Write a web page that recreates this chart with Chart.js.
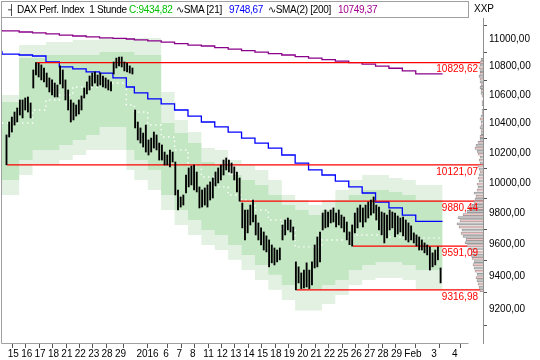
<!doctype html>
<html lang="de">
<head>
<meta charset="utf-8">
<title>DAX Perf. Index 1 Stunde</title>
<script src="https://cdn.jsdelivr.net/npm/chart.js@4"></script>
<style>
  body { margin: 0; background: #fff; }
  #wrap { position: relative; width: 540px; height: 360px; }
  #hdr { position: absolute; left: 1px; top: 1px; width: 468px; height: 17px; border: 1px solid #a0a0a0; box-sizing: border-box;
         font: 10px "Liberation Sans", Arial, sans-serif; letter-spacing: -0.3px; color: #000; }
  #hdr span { position: absolute; top: 2px; white-space: pre; }
  #xxp { position: absolute; left: 474px; top: 3px; font: 10px "Liberation Sans", Arial, sans-serif; }
</style>
</head>
<body>
<div id="wrap">
  <canvas id="dax" width="540" height="360"></canvas>
  <div id="hdr">
    <span style="left:6px">┤</span>
    <span style="left:15px">DAX Perf. Index  1 Stunde</span>
    <span style="left:127px; color:#00c000">C:9434,82</span>
    <span style="left:174px">∿SMA [21]</span>
    <span style="left:227px; color:#0000ff">9748,67</span>
    <span style="left:266px">∿SMA(2) [200]</span>
    <span style="left:336px; color:#a0008c">10749,37</span>
  </div>
  <div id="xxp">XXP</div>
</div>

<script>
    // day ticks (bar index of the day boundary) and their labels
    const xTickPos = [-0.5, 4.5, 9.5, 14.5, 19.5, 24.5, 29.5, 34.5, 39.5, 47.5, 57.5, 62.5, 67.5, 72.5, 77.5,
        82.5, 87.5, 92.5, 97.5, 102.5, 107.5, 112.5, 117.5, 122.5, 127.5, 132.5, 137.5, 142.5, 147.5, 157.5, 165.3];
    const xTickLabels = ['15', '16', '17', '18', '21', '22', '23', '28', '29', '2016', '6', '7', '8', '11', '12',
        '13', '14', '15', '18', '19', '20', '21', '22', '25', '26', '27', '28', '29', 'Feb', '3', '4'];
    const yTicks = [9200, 9400, 9600, 9800, 10000, 10200, 10400, 10600, 10800, 11000];

    // bars per trading day, 15 Dec 2015 .. 3 Feb 2016
    const barsPerDay = [5, 5, 5, 5, 5, 5, 5, 5, 5, 3,
        5, 5, 5, 5, 5, 5, 5, 5, 5, 5, 5, 5, 5, 5, 5, 5, 5, 5, 5, 5, 5, 5, 5];

    const highs = [10323, 10412, 10446, 10481, 10509, 10565, 10565, 10579, 10586, 10544,
        10777, 10829.62, 10825, 10813, 10791, 10755, 10720, 10706, 10684, 10670,
        10806, 10777, 10706, 10635, 10565, 10544, 10530, 10565, 10593, 10649,
        10692, 10734, 10755, 10763, 10741, 10755, 10734, 10720, 10706, 10692,
        10834, 10862, 10870, 10870, 10834, 10827, 10806, 10791,
        10495, 10412, 10371, 10336, 10391, 10289, 10302, 10343, 10323, 10268,
        10255, 10207, 10187, 10221, 10207, 10140, 9954, 9908, 9921, 10053,
        10100, 10113, 10120, 10073, 9974, 9954, 9967, 9987, 10007, 10033,
        10073, 10100, 10120, 10153, 10167, 10153, 10133, 10107, 10073, 10033,
        9868, 9823, 9823, 9855, 9888, 9790, 9739, 9707, 9681, 9656,
        9630, 9598, 9579, 9566, 9579, 9726, 9758, 9771, 9758, 9713,
        9491, 9460, 9422, 9440, 9485, 9440, 9491, 9598, 9649, 9681,
        9803, 9823, 9810, 9823, 9836, 9803, 9823, 9790, 9777, 9745,
        9681, 9726, 9803, 9836, 9855, 9836, 9855, 9875, 9888, 9908,
        9855, 9842, 9810, 9803, 9790, 9823, 9810, 9803, 9784, 9771,
        9777, 9758, 9739, 9720, 9675, 9662, 9649, 9630, 9611, 9598,
        9586, 9548, 9566, 9586, 9453];
    const lows = [10121.07, 10309, 10343, 10391, 10412, 10460, 10440, 10495, 10481, 10440,
        10649, 10741, 10727, 10706, 10692, 10656, 10621, 10600, 10586, 10586,
        10677, 10649, 10565, 10495, 10412, 10426, 10453, 10467, 10495, 10579,
        10607, 10635, 10663, 10684, 10663, 10670, 10656, 10649, 10635, 10628,
        10748, 10791, 10806, 10798, 10770, 10763, 10755, 10748,
        10371, 10289, 10268, 10241, 10207, 10187, 10207, 10234, 10221, 10153,
        10153, 10120, 10120, 10107, 10140, 9921, 9823, 9842, 9855, 9934,
        9974, 9987, 9954, 9941, 9836, 9842, 9855, 9842, 9888, 9901,
        9980, 10000, 10020, 10053, 10087, 10073, 10066, 10020, 9941, 9880.44,
        9707, 9630, 9675, 9726, 9745, 9662, 9630, 9598, 9566, 9554,
        9460, 9485, 9472, 9491, 9504, 9630, 9662, 9694, 9681, 9630,
        9316.98, 9360, 9325, 9329, 9335, 9325, 9347, 9453, 9460, 9491,
        9694, 9707, 9713, 9739, 9745, 9713, 9726, 9707, 9681, 9630,
        9600, 9591.09, 9675, 9707, 9745, 9713, 9745, 9771, 9790, 9803,
        9758, 9694, 9662, 9611, 9643, 9694, 9707, 9649, 9668, 9681,
        9656, 9630, 9617, 9630, 9611, 9592, 9566, 9566, 9548, 9535,
        9440, 9460, 9472, 9504, 9360];

    // daily indicator values
    const sma21 = [10913, 10891, 10884, 10877, 10834, 10799, 10784, 10763, 10755, 10720,
        10656, 10614, 10572, 10537, 10495, 10453, 10412, 10378, 10343, 10302,
        10268, 10234, 10187, 10133, 10087, 10053, 10013, 9974, 9934, 9875,
        9836, 9790, 9749];
    const sma200 = [11066, 11059, 11051, 11044, 11037, 11029, 11022, 11015, 11008, 11004,
        11000, 10993, 10986, 10978, 10967, 10956, 10949, 10938, 10927, 10916,
        10905, 10894, 10884, 10873, 10862, 10851, 10840, 10829, 10818, 10804,
        10789, 10771, 10749];
    const outerTop = [10600, 10600, 10956, 10956, 10978, 10978, 10993, 10993, 11007, 11007,
        11007, 11007, 11007, 10621, 10426, 10343, 10234, 10221, 10153, 10120,
        10087, 10020, 9921, 9888, 9855, 9888, 9954, 10020, 10053, 10053,
        10033, 10020, 9987];
    const innerTop = [10551, 10551, 10862, 10862, 10884, 10884, 10884, 10884, 10906, 10906,
        10906, 10884, 10884, 10405, 10336, 10268, 10140, 10120, 10053, 10020,
        9987, 9921, 9855, 9823, 9790, 9823, 9888, 9921, 9954, 9954,
        9941, 9921, 9888];
    const midLine = [10405, 10405, 10405, 10495, 10565, 10600, 10656, 10656, 10684, 10684,
        10530, 10481, 10391, 10309, 10221, 10120, 10040, 9974, 9921, 9888,
        9823, 9758, 9694, 9586, 9586, 9630, 9630, 9662, 9662, 9662,
        9649, 9643, 9643];
    const innerBot = [9987, 10020, 10153, 10221, 10221, 10255, 10289, 10323, 10378, 10378,
        10221, 10153, 10087, 9921, 9823, 9758, 9694, 9662, 9598, 9535,
        9472, 9410, 9347, 9317, 9317, 9347, 9378, 9440, 9472, 9491,
        9491, 9472, 9440];
    const outerBot = [9921, 9921, 10053, 10120, 10120, 10153, 10187, 10221, 10221, 10221,
        10087, 10020, 9954, 9823, 9726, 9662, 9598, 9566, 9504, 9440,
        9378, 9317, 9255, 9190, 9190, 9230, 9286, 9347, 9378, 9391,
        9391, 9378, 9317];

    // support / resistance levels and the bar they start from
    const levels = [10829.62, 10121.07, 9880.44, 9591.09, 9316.98];
    const levelStart = [11, 0, 87, 129, 108];

    // volume-at-price profile on the right edge
    const profPrice = [9320, 9340, 9360, 9380, 9400, 9420, 9440, 9460, 9480, 9500,
        9520, 9540, 9560, 9580, 9600, 9620, 9640, 9660, 9680, 9700,
        9720, 9740, 9760, 9780, 9800, 9820, 9840, 9860, 9880, 9900,
        9920, 9940, 9960, 9980, 10000, 10020, 10040, 10060, 10080, 10100,
        10120, 10140, 10160, 10180, 10200, 10220, 10240, 10260, 10280, 10300,
        10320, 10340, 10360, 10380, 10400, 10420, 10440, 10460, 10480, 10500,
        10520, 10540, 10560, 10580, 10600, 10620, 10640, 10660, 10680, 10700,
        10720, 10740, 10760, 10780, 10800, 10820, 10840, 10860];
    const profVol = [3, 4, 5, 6, 7, 6, 8, 9, 10, 9,
        11, 12, 11, 14, 16, 18, 17, 20, 22, 21,
        24, 26, 23, 25, 20, 16, 14, 11, 9, 8,
        7, 9, 6, 5, 6, 4, 5, 4, 3, 4,
        5, 3, 4, 3, 5, 6, 8, 7, 5, 3,
        3, 2, 2, 3, 2, 2, 3, 2, 1, 1,
        0, 1, 1, 0, 1, 2, 2, 3, 2, 3,
        3, 4, 3, 3, 4, 3, 3, 2];

    const X_MIN = -1.9, X_MAX = 177.6;
    const Y_MIN = 8995, Y_MAX = 11154;

    const dayStart = [];
    let n = 0;
    barsPerDay.forEach(b => { dayStart.push(n); n += b; });
    const lastBar = n - 1;

    function stepData(vals) {
        const pts = vals.map((v, d) => ({x: d === 0 ? X_MIN : dayStart[d] - 0.5, y: v}));
        pts.push({x: lastBar + 0.5, y: vals[vals.length - 1]});
        return pts;
    }

    const fmt = v => v.toFixed(2).replace('.', ',');

    const stepLine = (vals, extra) => Object.assign({
        type: 'line', data: stepData(vals), stepped: 'after', pointRadius: 0, borderWidth: 1.3, fill: false
    }, extra);

    const datasets = [
        {
            type: 'bar', data: highs.map((h, i) => ({x: i, y: [lows[i], h]})),
            backgroundColor: '#000', barThickness: 1.2, order: 0
        },
        {
            type: 'bar', indexAxis: 'y', xAxisID: 'xv',
            data: profPrice.map((p, i) => ({x: profVol[i], y: p})),
            backgroundColor: profPrice.map((p, i) => i % 2 ? '#c4c4c4' : '#f0c4c4'),
            borderColor: '#8e8e8e', borderWidth: 0.7, barThickness: 2.2, order: 1
        }
    ];
    levels.forEach((l, i) => datasets.push({
        type: 'line', data: [{x: levelStart[i], y: l}, {x: X_MAX, y: l}],
        borderColor: '#ff0000', borderWidth: 1.3, pointRadius: 0, order: 1
    }));
    datasets.push(stepLine(sma21, {borderColor: '#0000ff', order: 2}));
    datasets.push(stepLine(sma200, {borderColor: '#8b008b', order: 2}));
    datasets.push(stepLine(midLine, {borderColor: '#ffffff', borderWidth: 1.4, borderDash: [1.4, 3.6], order: 3}));
    datasets.push(stepLine(innerTop, {borderWidth: 0, fill: '+1', backgroundColor: '#c3e6c3', order: 4}));
    datasets.push(stepLine(innerBot, {borderWidth: 0, order: 4}));
    datasets.push(stepLine(outerTop, {borderWidth: 0, fill: '+1', backgroundColor: '#e2f1e2', order: 5}));
    datasets.push(stepLine(outerBot, {borderWidth: 0, order: 5}));

    const decor = {
        id: 'decor',
        afterDatasetsDraw(chart) {
            const {ctx, chartArea: a, scales: {y}} = chart;
            ctx.save();
            ctx.font = '10px "Liberation Sans"';
            ctx.fillStyle = '#ff0000';
            ctx.textAlign = 'right';
            ctx.textBaseline = 'top';
            levels.forEach(l => ctx.fillText(fmt(l), a.right - 5, y.getPixelForValue(l) + 2));
            ctx.strokeStyle = '#a0a0a0';
            ctx.lineWidth = 1;
            ctx.beginPath();
            ctx.moveTo(1.5, a.top);
            ctx.lineTo(1.5, a.bottom + 0.5);
            ctx.lineTo(468.5, a.bottom + 0.5);
            ctx.stroke();
            ctx.restore();
        }
    };

    const font = {family: 'Liberation Sans', size: 10};

    new Chart(document.getElementById('dax'), {
        type: 'line',
        data: {datasets},
        options: {
            responsive: false,
            animation: false,
            devicePixelRatio: 1,
            layout: {padding: {left: 2, top: 18, right: 0, bottom: 0}},
            plugins: {legend: {display: false}, tooltip: {enabled: false}},
            scales: {
                x: {
                    type: 'linear', min: X_MIN, max: X_MAX, offset: false,
                    afterBuildTicks: s => { s.ticks = xTickPos.map(v => ({value: v})); },
                    afterFit: s => { s.height = 17; },
                    grid: {drawOnChartArea: false, tickLength: 5, color: '#555'},
                    border: {display: false},
                    ticks: {
                        autoSkip: false, maxRotation: 0, align: 'start', labelOffset: 2, padding: 0,
                        color: '#000', font, callback: (v, i) => xTickLabels[i]
                    }
                },
                xv: {
                    type: 'linear', display: false, reverse: true, min: 0, max: 481, offset: false
                },
                y: {
                    type: 'logarithmic', position: 'right', min: Y_MIN, max: Y_MAX,
                    afterBuildTicks: s => { s.ticks = yTicks.map(v => ({value: v})); },
                    afterFit: s => { s.width = 57; },
                    grid: {drawOnChartArea: false, tickLength: 4, color: '#555'},
                    border: {display: true, color: '#909090'},
                    ticks: {padding: 2, color: '#000', font, callback: v => fmt(v)}
                }
            }
        },
        plugins: [decor]
    });
</script>
</body>
</html>
